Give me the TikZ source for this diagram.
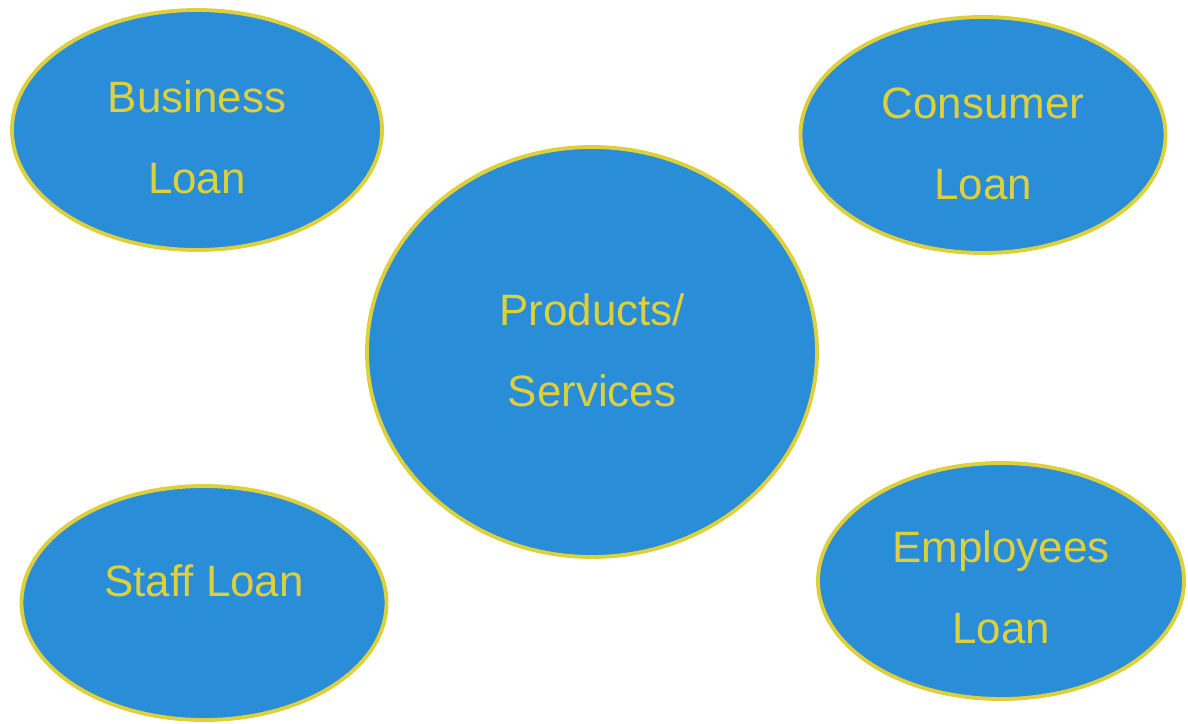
\documentclass[tikz,border=0pt]{standalone}
\usepackage{fontspec}
\setmainfont{Liberation Sans}
\usetikzlibrary{shapes.geometric}
\definecolor{bubbleblue}{RGB}{42,141,216}
\definecolor{bubbleyellow}{RGB}{221,208,58}
\tikzset{
  bubble/.style={draw=bubbleyellow, fill=bubbleblue, ellipse, line width=2.2pt, inner sep=0pt},
  bubbletext/.style={text=bubbleyellow, align=center, inner sep=0pt, font=\fontsize{25}{46}\selectfont}
}

\begin{document}
\begin{tikzpicture}
    \useasboundingbox (0,0) rectangle (23.76,-14.46);

    % ellipses
    \node[bubble, minimum width=7.4cm, minimum height=4.8cm] (business) at (3.94,-2.6) {};
    \node[bubble, minimum width=7.3cm, minimum height=4.72cm] (consumer) at (19.66,-2.7) {};
    \node[bubble, minimum width=9.0cm, minimum height=8.2cm] (products) at (11.84,-7.04) {};
    \node[bubble, minimum width=7.3cm, minimum height=4.68cm] (staff) at (4.08,-12.06) {};
    \node[bubble, minimum width=7.32cm, minimum height=4.72cm] (employees) at (20.02,-11.62) {};

    % texts
    \node[bubbletext] (businesstext) at (3.94,-2.74) {Business\\Loan};
    \node[bubbletext] (consumertext) at (19.66,-2.88) {Consumer\\Loan};
    \node[bubbletext] (productstext) at (11.84,-7.0) {Products/\\Services};
    \node[bubbletext] (stafftext) at (4.08,-11.62) {Staff Loan};
    \node[bubbletext] (employeestext) at (20.02,-11.74) {Employees\\Loan};
\end{tikzpicture}
\end{document}
